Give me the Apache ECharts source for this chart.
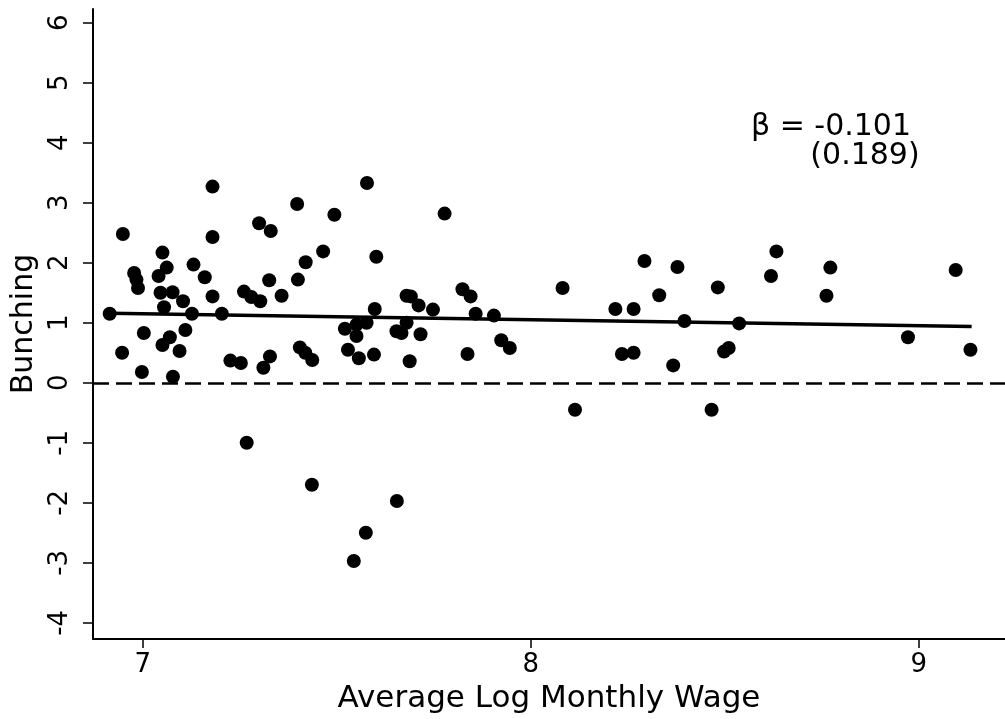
<!DOCTYPE html>
<html>
<head>
<meta charset="utf-8">
<script src="https://cdn.jsdelivr.net/npm/echarts@6/dist/echarts.min.js"></script>
<style>
html,body{margin:0;padding:0;background:#fff;}
#chart{width:1005px;height:719px;}
</style>
</head>
<body>
<div id="chart"></div>
<script>
// ---- data ----
const wageX = [
  6.915, 6.949, 6.947, 6.978, 6.984, 6.988, 7.003, 6.998, 7.041, 7.051,
  7.062, 7.046, 7.077, 7.055, 7.051, 7.070, 7.078, 7.095, 7.104, 7.110,
  7.127, 7.131, 7.160, 7.180, 7.180, 7.180, 7.204, 7.226, 7.253, 7.261,
  7.280, 7.268, 7.300, 7.303, 7.311, 7.328, 7.330, 7.326, 7.358, 7.398,
  7.400, 7.420, 7.465, 7.494, 7.405, 7.419, 7.437, 7.436, 7.521, 7.529,
  7.551, 7.551, 7.557, 7.577, 7.578, 7.598, 7.596, 7.602, 7.544, 7.575,
  7.655, 7.778, 7.680, 7.691, 7.711, 7.748, 7.654, 7.667, 7.680, 7.716,
  7.688, 7.824, 7.845, 7.858, 7.905, 7.837, 7.924, 7.946, 8.082, 8.114,
  8.218, 8.265, 8.235, 8.265, 8.293, 8.331, 8.367, 8.378, 8.396, 8.482,
  8.537, 8.466, 8.498, 8.510, 8.619, 8.633, 8.762, 8.772, 8.972, 9.095,
  9.133
];
const bunchingY = [
  1.15, 2.48, 0.50, 1.83, 1.72, 1.58, 0.83, 0.18, 1.78, 2.17,
  1.92, 1.50, 1.51, 1.26, 0.63, 0.76, 0.10, 0.53, 1.36, 0.88,
  1.15, 1.97, 1.76, 3.27, 2.43, 1.44, 1.15, 0.37, 0.33, 1.52,
  1.43, -1.00, 2.66, 1.36, 0.25, 0.44, 2.53, 1.71, 1.45, 2.98,
  1.72, 2.01, 2.19, 2.80, 0.59, 0.50, 0.38, -1.70, 0.90, 0.55,
  0.97, 0.78, 0.41, 1.00, 3.33, 1.23, 0.47, 2.10, -2.97, -2.50,
  -1.97, 2.82, 1.45, 1.44, 1.29, 1.22, 0.86, 0.83, 1.00, 0.81,
  0.36, 1.56, 1.44, 1.15, 1.12, 0.48, 0.71, 0.58, 1.58, -0.45,
  1.23, 1.23, 0.48, 0.50, 2.03, 1.46, 0.29, 1.93, 1.03, 1.59,
  0.99, -0.45, 0.52, 0.58, 1.78, 2.19, 1.45, 1.92, 0.76, 1.88,
  0.55
];
const fitX = [6.915, 9.136];
const fitY = [1.16, 0.94];
const refLineY = 0;
const xTicks = [7, 8, 9];
const yTicks = [-4, -3, -2, -1, 0, 1, 2, 3, 4, 5, 6];
const xName = 'Average Log Monthly Wage';
const yName = 'Bunching';
const betaText = 'β = -0.101';
const seText = '(0.189)';

// ---- chart ----
const FONT = 'DejaVu Sans';
const chart = echarts.init(document.getElementById('chart'), null, {renderer: 'canvas'});
const points = wageX.map((x, i) => [x, bunchingY[i]]);
const fitLine = fitX.map((x, i) => [x, fitY[i]]);

chart.setOption({
  animation: false,
  backgroundColor: '#fff',
  grid: {left: 93, right: 0, top: 9, bottom: 80, containLabel: false},
  xAxis: {
    type: 'value',
    min: 6.872, max: 9.222,
    splitLine: {show: false},
    axisLine: {show: true, onZero: false, lineStyle: {color: '#000', width: 2}},
    axisTick: {show: true, customValues: xTicks, length: 9, lineStyle: {color: '#000', width: 1.5}},
    axisLabel: {customValues: xTicks, color: '#000', fontSize: 26, fontFamily: FONT, margin: 13},
    name: xName, nameLocation: 'middle', nameGap: 44,
    nameTextStyle: {color: '#000', fontSize: 31, fontFamily: FONT}
  },
  yAxis: {
    type: 'value',
    min: -4.27, max: 6.23,
    splitLine: {show: false},
    axisLine: {show: true, onZero: false, lineStyle: {color: '#000', width: 2}},
    axisTick: {show: true, customValues: yTicks, length: 10, lineStyle: {color: '#000', width: 1.5}},
    axisLabel: {customValues: yTicks, color: '#000', fontSize: 26, fontFamily: FONT, margin: 20, rotate: 90},
    name: yName, nameLocation: 'middle', nameGap: 52, nameRotate: 90,
    nameTextStyle: {color: '#000', fontSize: 30, fontFamily: FONT}
  },
  series: [
    {
      type: 'scatter',
      data: points,
      symbol: 'circle',
      symbolSize: 14,
      itemStyle: {color: '#000', opacity: 1},
      z: 3,
      markLine: {
        silent: true,
        symbol: ['none', 'none'],
        label: {show: false},
        lineStyle: {color: '#000', width: 2.5, type: [16, 7]},
        data: [{yAxis: refLineY}]
      }
    },
    {
      type: 'line',
      data: fitLine,
      symbol: 'none',
      lineStyle: {color: '#000', width: 3.5},
      z: 4
    }
  ],
  graphic: [
    {type: 'text', x: 831, y: 127, style: {text: betaText, fontSize: 30, fontFamily: FONT, fill: '#000', align: 'center', verticalAlign: 'middle'}},
    {type: 'text', x: 865, y: 156, style: {text: seText, fontSize: 30, fontFamily: FONT, fill: '#000', align: 'center', verticalAlign: 'middle'}}
  ]
});
</script>
</body>
</html>
